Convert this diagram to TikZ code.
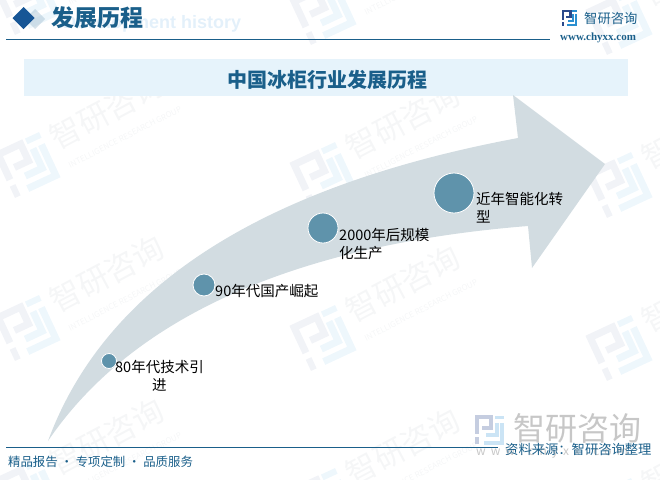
\documentclass[tikz,border=0pt]{standalone}
\usepackage{fontspec}
\setmainfont{Noto Sans CJK SC}
\newfontfamily\urlfont{Liberation Serif}
\newfontfamily\ghostfont{Liberation Sans}
\definecolor{headblue}{HTML}{1A5F8A}
\definecolor{bandblue}{HTML}{E6F3FB}
\definecolor{arrowgrey}{HTML}{D2DCE1}
\definecolor{dotblue}{HTML}{5F93AB}
\definecolor{ghostblue}{HTML}{E3F0FA}
\definecolor{wmgrey}{HTML}{F5F6F7}
\definecolor{wmleft}{HTML}{F1F3F7}
\definecolor{wmright}{HTML}{EEF7FC}
\definecolor{navylogo}{HTML}{2B4A8C}
\definecolor{skylogo}{HTML}{2A8FD0}
\definecolor{bigleft}{HTML}{C5CDE0}
\definecolor{bigright}{HTML}{CBE4F5}
\newcommand{\brandlogo}[6]{%
    \begin{scope}[shift={(#1,#2)}, rotate=#3, scale=#4, line cap=butt]
        \draw[#5, line width=#4*2.3pt] (-7,2) to (-7,-7) to (1,-7) to (1,-1) to (-4,-1);
        \fill[#5] (-8,4) rectangle (-6,8);
        \fill[#6] (3,-8) rectangle (8,-6);
        \draw[#6, line width=#4*2.3pt] (7,-4) to (7,7) to (-3,7);
        \draw[#6, line width=#4*2.3pt] (4,-4) to (4,3) to (-2,3);
    \end{scope}}
\tikzset{
    wmword/.style={text=wmgrey, inner sep=0, rotate=28, font=\fontsize{31}{31}\selectfont},
    wmsmall/.style={text=wmgrey, inner sep=0, rotate=27, font=\fontsize{8}{8}\selectfont},
    dot/.style={shape=circle, fill=dotblue, draw=white, line width=0.8pt, inner sep=0},
    stagelabel/.style={anchor=west, inner sep=0, text=black, font=\fontsize{14.5}{18}\selectfont},
    footlabel/.style={inner sep=0, text=headblue}
}
\begin{document}
\begin{tikzpicture}[x=1pt, y=-1pt]
    \useasboundingbox (0,0) rectangle (660,479);
    \begin{scope}
        \clip (0,0) rectangle (660,479);
        \foreach \colnum in {0,1,2} {
            \foreach \rownum in {0,1,2,3} {
                \pgfmathsetmacro{\wmx}{27+296*\colnum}
                \pgfmathsetmacro{\wmy}{2+10*\colnum+163*\rownum}
                \brandlogo{\wmx}{\wmy}{25}{3.1}{wmleft}{wmright}
                \node[wmword] (word\colnum\rownum) at (\wmx+80,\wmy-54) {智研咨询};
                \node[wmsmall] (sub\colnum\rownum) at (\wmx+98,\wmy-28) {INTELLIGENCE RESEARCH GROUP};
            }
        }
    \end{scope}

    \node[inner sep=0, anchor=west, text=ghostblue, font=\ghostfont\bfseries\fontsize{18}{18}\selectfont] (ghost) at (63,24) {Development history};
    \fill[fill=white!60!headblue, opacity=0.45] (35,9) -- (45,19) -- (35,29) -- (25,19) -- cycle;
    \fill[fill=headblue!90!blue] (23.5,7) -- (34.5,18) -- (23.5,29) -- (12.5,18) -- cycle;
    \node[inner sep=0, anchor=west, text=headblue, font=\bfseries\fontsize{23}{23}\selectfont] (head) at (51,18) {发展历程};
    \coordinate (headA) at (6,39.5);
    \coordinate (headB) at (550,39.5);
    \draw[headblue, line width=1pt] (headA) to (headB);

    \brandlogo{569.5}{18}{0}{0.95}{navylogo}{skylogo}
    \node[inner sep=0, anchor=west, text=headblue, font=\fontsize{13.3}{13.3}\selectfont] (brand) at (584,18) {智研咨询};
    \node[inner sep=0, anchor=west, text=headblue, font=\urlfont\bfseries\fontsize{11}{11}\selectfont] (url) at (560,38) {www.chyxx.com};

    \fill[bandblue] (24,59) rectangle (628,96);
    \node[inner sep=0, text=headblue, font=\bfseries\fontsize{20}{20}\selectfont] (title) at (327,80) {中国冰柜行业发展历程};

    \fill[arrowgrey] (48,441) .. controls (100,300) and (240,190) .. (518,138)
        -- (513,95) -- (605,164) -- (532,268) -- (528,226)
        .. controls (290,245) and (130,320) .. (48,441) -- cycle;

    \node[dot, minimum size=15pt] (A1) at (109,361) {};
    \node[dot, minimum size=22pt] (A2) at (204,285) {};
    \node[dot, minimum size=30pt] (A3) at (323,228) {};
    \node[dot, minimum size=40pt] (A4) at (454,193) {};
    \node[stagelabel, align=center] (L1) at (115,376) {80年代技术引\\进};
    \node[stagelabel] (L2) at (215,291) {90年代国产崛起};
    \node[stagelabel, align=left] (L3) at (339,244) {2000年后规模\\化生产};
    \node[stagelabel, align=left] (L4) at (476,208) {近年智能化转\\型};

    \brandlogo{489.5}{430}{0}{1.8}{bigleft}{bigright}
    \node[inner sep=0, anchor=west, text=black!22, font=\fontsize{32}{32}\selectfont] (bigbrand) at (513,428) {智研咨询};
    \node[inner sep=0, anchor=west, text=black!22, font=\fontsize{12}{12}\selectfont] (bigurl) at (476,452) {w\hspace{5pt}w\hspace{5pt}w\hspace{5pt}.\hspace{5pt}c\hspace{5pt}h\hspace{5pt}y\hspace{5pt}x\hspace{5pt}x\hspace{5pt}.\hspace{5pt}c\hspace{5pt}o\hspace{5pt}m};

    \coordinate (footA) at (6,447.5);
    \coordinate (footB) at (498,447.5);
    \draw[headblue, line width=1pt] (footA) to (footB);
    \node[footlabel, anchor=west, font=\fontsize{12.4}{12.4}\selectfont] (footL) at (8,462) {精品报告 · 专项定制 · 品质服务};
    \node[footlabel, anchor=west, font=\fontsize{13.3}{13.3}\selectfont] (footR) at (505,449) {资料来源\symbol{"FF1A}智研咨询整理};
\end{tikzpicture}
\end{document}
